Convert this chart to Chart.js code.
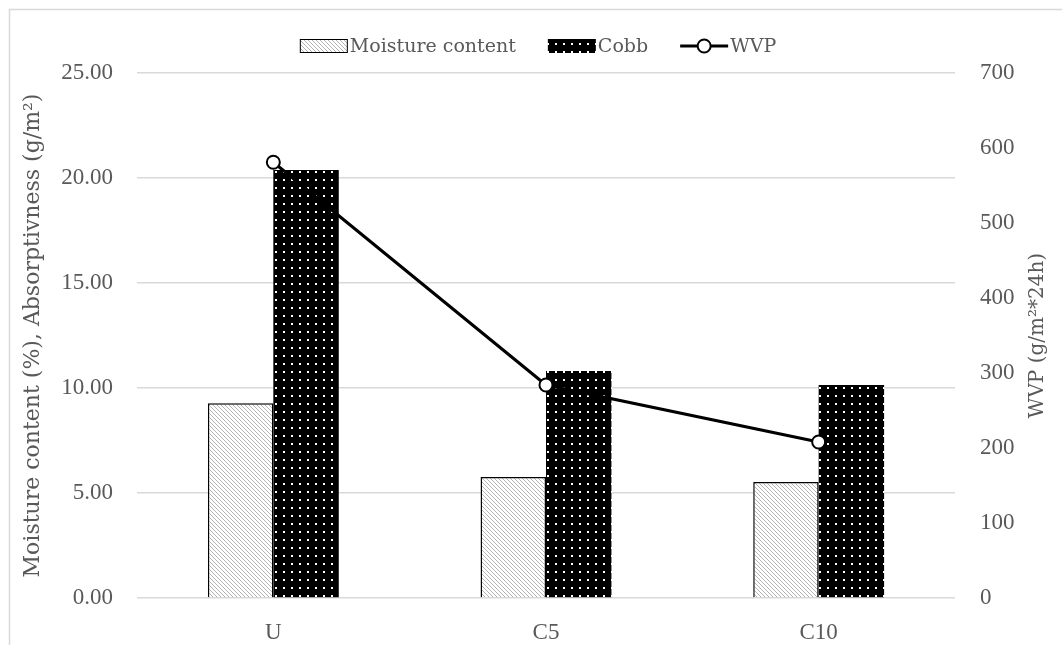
<!DOCTYPE html>
<html>
<head>
<meta charset="utf-8">
<script src="https://cdn.jsdelivr.net/npm/chart.js@4.4.0/dist/chart.umd.min.js"></script>
<style>
  html, body { margin: 0; padding: 0; background: #fff; }
  #wrap { width: 1062px; height: 645px; position: relative; }
</style>
</head>
<body>
<div id="wrap"><canvas id="chart"></canvas></div>
<script>
const categories = ['U', 'C5', 'C10']
const moisture = [9.27, 5.76, 5.52]
const cobb = [20.38, 10.81, 10.14]
const wvp = [581, 284, 208]

const leftTitle = 'Moisture content (%), Absorptivness (g/m²)'
const rightTitle = 'WVP (g/m²*24h)'
const FONT = '"Liberation Serif", "DejaVu Serif", serif'
const WIDE = '"DejaVu Serif", "Liberation Serif", serif'
const TEXT = '#595959'

function hatchPattern() {
  const c = document.createElement('canvas')
  c.width = 4
  c.height = 4
  const g = c.getContext('2d')
  g.fillStyle = '#fff'
  g.fillRect(0, 0, 4, 4)
  for (let i = 0; i < 4; i++) {
    g.fillStyle = '#b4b4b4'
    g.fillRect(i, i, 1, 1)
  }
  return g.createPattern(c, 'repeat')
}

function dotPattern() {
  const c = document.createElement('canvas')
  c.width = 8
  c.height = 8
  const g = c.getContext('2d')
  g.fillStyle = '#000'
  g.fillRect(0, 0, 8, 8)
  g.fillStyle = '#fff'
  g.fillRect(3, 3, 2, 2)
  return g.createPattern(c, 'repeat')
}

const hatch = hatchPattern()
const dots = dotPattern()

// frame, axis titles and legend drawn by hand
const decor = {
  id: 'decor',
  beforeDraw(chart) {
    const ctx = chart.ctx
    ctx.save()
    ctx.strokeStyle = '#d9d9d9'
    ctx.lineWidth = 1.5
    ctx.strokeRect(9.5, 9.5, 2000, 2000)
    ctx.restore()
  },
  afterDraw(chart) {
    const ctx = chart.ctx
    const area = chart.chartArea
    const midY = (area.top + area.bottom) / 2
    ctx.save()
    ctx.fillStyle = TEXT
    ctx.font = '22px ' + WIDE
    ctx.textAlign = 'center'
    ctx.textBaseline = 'middle'
    ctx.translate(33, midY)
    ctx.rotate(-Math.PI / 2)
    ctx.fillText(leftTitle, 0, 0)
    ctx.restore()

    ctx.save()
    ctx.fillStyle = TEXT
    ctx.font = '20px ' + WIDE
    ctx.textAlign = 'center'
    ctx.textBaseline = 'middle'
    ctx.translate(1038, midY)
    ctx.rotate(-Math.PI / 2)
    ctx.fillText(rightTitle, 0, 0)
    ctx.restore()

    // legend
    ctx.save()
    ctx.font = '19px ' + WIDE
    ctx.textBaseline = 'middle'
    const items = chart.data.datasets.map(d => d.label)
    const boxW = 48, gapText = 2, gapItem = 32
    let total = 0
    items.forEach((t, i) => {
      total += boxW + gapText + ctx.measureText(t).width
      if (i < items.length - 1) total += gapItem
    })
    let x = 538 - total / 2
    const y = 46
    chart.data.datasets.forEach((d, i) => {
      if (d.type === 'line') {
        ctx.strokeStyle = '#000'
        ctx.lineWidth = 3
        ctx.beginPath()
        ctx.moveTo(x, y)
        ctx.lineTo(x + boxW, y)
        ctx.stroke()
        ctx.beginPath()
        ctx.arc(x + boxW / 2, y, 6.5, 0, Math.PI * 2)
        ctx.fillStyle = '#fff'
        ctx.fill()
        ctx.lineWidth = 2
        ctx.stroke()
      } else {
        ctx.fillStyle = d.backgroundColor
        ctx.fillRect(x, y - 7, boxW, 14)
        if (d.borderWidth) {
          ctx.strokeStyle = '#000'
          ctx.lineWidth = 1
          ctx.strokeRect(x + 0.5, y - 6.5, boxW - 1, 13)
        }
      }
      x += boxW + gapText
      ctx.fillStyle = TEXT
      ctx.textAlign = 'left'
      ctx.fillText(d.label, x, y + 1)
      x += ctx.measureText(d.label).width + gapItem
    })
    ctx.restore()
  }
}

const ctx = document.getElementById('chart').getContext('2d')

new Chart(ctx, {
  data: {
    labels: categories,
    datasets: [
      {
        type: 'bar',
        label: 'Moisture content',
        data: moisture,
        backgroundColor: hatch,
        borderColor: '#000',
        borderWidth: 1.5,
        yAxisID: 'y',
        order: 1
      },
      {
        type: 'bar',
        label: 'Cobb',
        data: cobb,
        backgroundColor: dots,
        borderWidth: 0,
        yAxisID: 'y',
        order: 1
      },
      {
        type: 'line',
        label: 'WVP',
        data: wvp,
        borderColor: '#000',
        borderWidth: 3,
        pointRadius: 6.5,
        pointBorderWidth: 2,
        pointBackgroundColor: '#fff',
        pointBorderColor: '#000',
        tension: 0,
        yAxisID: 'y1',
        order: 0
      }
    ]
  },
  options: {
    responsive: true,
    maintainAspectRatio: false,
    animation: false,
    layout: { padding: { top: 73, left: 0, right: 0, bottom: 0 } },
    datasets: {
      bar: { categoryPercentage: 0.48, barPercentage: 1 }
    },
    plugins: {
      legend: { display: false },
      tooltip: { enabled: false }
    },
    scales: {
      x: {
        grid: { display: false },
        border: { display: false },
        ticks: { color: TEXT, font: { family: FONT, size: 23 }, padding: 13 },
        afterFit(scale) { scale.height = 47 }
      },
      y: {
        position: 'left',
        min: 0,
        max: 25,
        ticks: {
          stepSize: 5,
          color: TEXT,
          font: { family: FONT, size: 23 },
          padding: 24,
          callback: v => v.toFixed(2)
        },
        grid: { color: '#d9d9d9', lineWidth: 1.5, drawTicks: false },
        border: { display: false },
        afterFit(scale) { scale.width = 137 }
      },
      y1: {
        position: 'right',
        min: 0,
        max: 700,
        ticks: {
          stepSize: 100,
          color: TEXT,
          font: { family: FONT, size: 23 },
          padding: 25
        },
        grid: { display: false, drawTicks: false },
        border: { display: false },
        afterFit(scale) { scale.width = 107 }
      }
    }
  },
  plugins: [decor]
})
</script>
</body>
</html>
